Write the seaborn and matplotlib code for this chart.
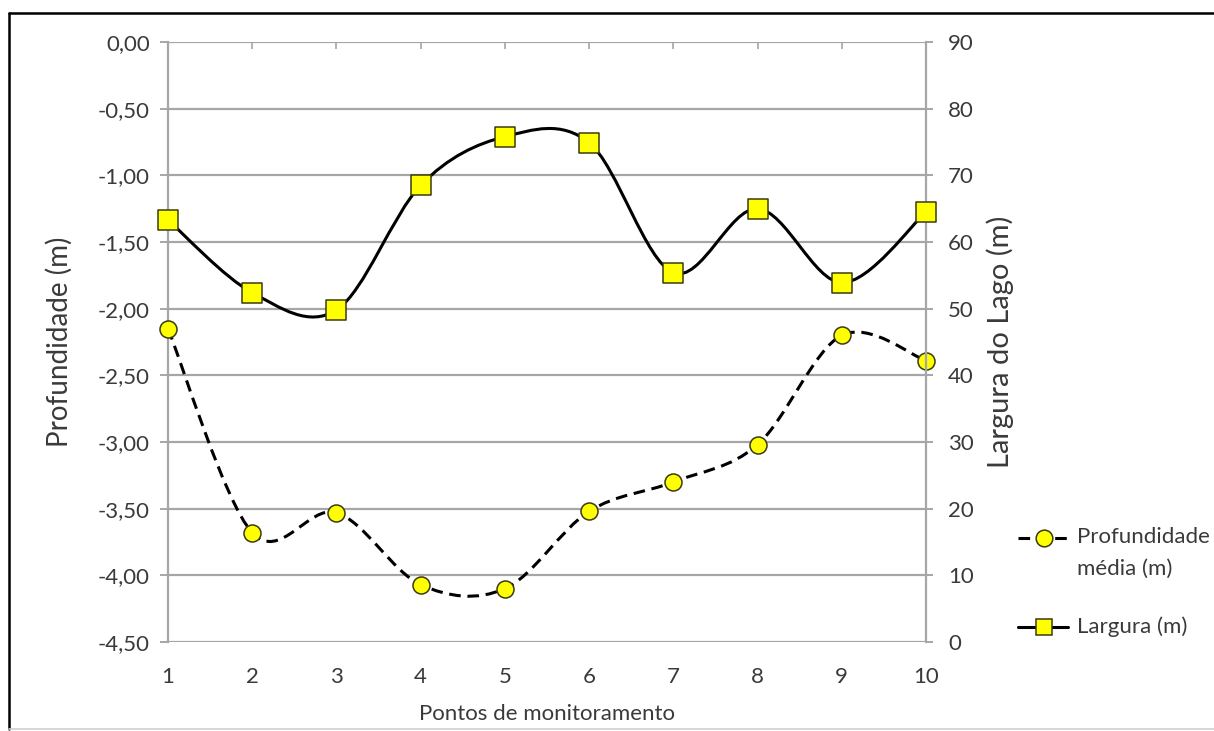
import numpy as np
import matplotlib
matplotlib.use("Agg")
import matplotlib.pyplot as plt
import seaborn as sns
from matplotlib.path import Path
from matplotlib.patches import PathPatch
from matplotlib.lines import Line2D

# data
pontos = [1, 2, 3, 4, 5, 6, 7, 8, 9, 10]
profundidade = [-2.15, -3.68, -3.53, -4.07, -4.10, -3.52, -3.30, -3.02, -2.20, -2.39]
largura = [63.3, 52.4, 49.8, 68.5, 75.8, 74.9, 55.4, 65.0, 53.9, 64.5]
depth_ticks = [-4.5, -4.0, -3.5, -3.0, -2.5, -2.0, -1.5, -1.0, -0.5, 0.0]
width_ticks = [0, 10, 20, 30, 40, 50, 60, 70, 80, 90]

TXT = "#3a3a3a"
GRID = "#a6a6a6"
YEL = "#ffff00"
EDGE = "#3a3a10"
DASH = (0, (3.8, 2.2))


def smooth_path(xs, ys):
    # Excel-style smoothed line: cubic bezier segments through the points
    pts = np.column_stack([xs, ys]).astype(float)
    n = len(pts)
    verts, codes = [pts[0]], [Path.MOVETO]
    for i in range(n - 1):
        p0 = pts[max(i - 1, 0)]
        p1 = pts[i]
        p2 = pts[i + 1]
        p3 = pts[min(i + 2, n - 1)]
        verts += [p1 + (p2 - p0) / 6, p2 - (p3 - p1) / 6, p2]
        codes += [Path.CURVE4] * 3
    return Path(verts, codes)


sns.set_theme(style="white")
plt.rcParams["font.family"] = ["Lato", "DejaVu Sans"]
plt.rcParams["text.color"] = TXT

W, H = 1214, 731
fig = plt.figure(figsize=(W / 100, H / 100), dpi=100)
ax = fig.add_axes([168 / W, 1 - 642 / H, 758 / W, 600 / H])
ax2 = ax.twinx()

# depth: dashed smooth line + yellow circles
ax.add_patch(PathPatch(smooth_path(pontos, profundidade), fill=False, edgecolor="black",
                       lw=2.2, linestyle=DASH, clip_on=False, zorder=3))
sns.scatterplot(x=pontos, y=profundidade, ax=ax, marker="o", s=150, color=YEL,
                edgecolor=EDGE, linewidth=1.1, clip_on=False, zorder=4)

# width: solid smooth line + yellow squares
ax2.add_patch(PathPatch(smooth_path(pontos, largura), fill=False, edgecolor="black",
                        lw=2.2, clip_on=False, zorder=3))
sns.scatterplot(x=pontos, y=largura, ax=ax2, marker="s", s=190, color=YEL,
                edgecolor=EDGE, linewidth=1.1, clip_on=False, zorder=4)

ax.set_xlim(1, 10)
ax.set_ylim(-4.5, 0)
ax2.set_ylim(0, 90)

ax.set_yticks(depth_ticks)
ax.set_yticklabels([f"{v:.2f}".replace(".", ",") for v in depth_ticks])
ax2.set_yticks(width_ticks)
ax2.set_yticklabels([str(v) for v in width_ticks])
ax.set_xticks(pontos)
ax.set_xticklabels([str(p) for p in pontos])

ax.grid(axis="y", color=GRID, lw=1.6)
ax.grid(axis="x", visible=False)
ax2.grid(False)

for a in (ax, ax2):
    for s in a.spines.values():
        s.set_color(GRID)
        s.set_linewidth(1.6)
    a.spines["bottom"].set_visible(False)
    a.spines["top"].set_visible(False)
ax2.spines["left"].set_visible(False)
ax.spines["right"].set_visible(False)

ax.tick_params(axis="y", left=True, length=6, width=1.4, color=GRID, pad=7,
               labelsize=16, labelcolor=TXT)
ax2.tick_params(axis="y", right=True, length=5, width=1.4, color=GRID, pad=11,
                labelsize=16, labelcolor=TXT)
ax.tick_params(axis="x", bottom=False, top=True, direction="in", length=5, width=1.2,
               color=GRID, pad=18, labelsize=16, labelcolor=TXT)

ax.set_ylabel("Profundidade (m)", fontsize=20, color=TXT)
ax.yaxis.set_label_coords((73 - 168) / 758, 0.5)
ax2.set_ylabel("Largura do Lago (m)", fontsize=21, color=TXT)
ax2.yaxis.set_label_coords((986 - 168) / 758, 0.5)
ax.set_xlabel("Pontos de monitoramento", fontsize=16, color=TXT)
ax.xaxis.label.set_va("center")
ax.xaxis.set_label_coords(0.5, (642 - 714) / 600)

# legend, drawn by hand to sit like the Excel one
for y, ls, mk, ms in [(538, DASH, "o", 12), (627, "-", "s", 12)]:
    fig.add_artist(Line2D([1018 / W, 1068 / W], [1 - y / H, 1 - y / H], transform=fig.transFigure,
                          color="black", lw=2.2, linestyle=ls))
    fig.add_artist(Line2D([1044 / W], [1 - y / H], transform=fig.transFigure, marker=mk,
                          markersize=ms, markerfacecolor=YEL, markeredgecolor=EDGE,
                          markeredgewidth=1.1, linestyle="none"))
fig.text(1077 / W, 1 - 537 / H, "Profundidade", fontsize=16, va="center", ha="left")
fig.text(1077 / W, 1 - 569 / H, "média (m)", fontsize=16, va="center", ha="left")
fig.text(1077 / W, 1 - 627 / H, "Largura (m)", fontsize=16, va="center", ha="left")

# outer chart border (black left/top, faint bottom)
fig.add_artist(Line2D([9 / W, 9 / W], [1 - 729 / H, 1 - 13 / H], transform=fig.transFigure,
                      color="black", lw=1.8))
fig.add_artist(Line2D([9 / W, 1.0], [1 - 13 / H, 1 - 13 / H], transform=fig.transFigure,
                      color="black", lw=1.8))
fig.add_artist(Line2D([9 / W, 1.0], [1 - 729 / H, 1 - 729 / H], transform=fig.transFigure,
                      color="#d0d0d0", lw=1.2))

fig.savefig("out.png", dpi=100, facecolor="white")
